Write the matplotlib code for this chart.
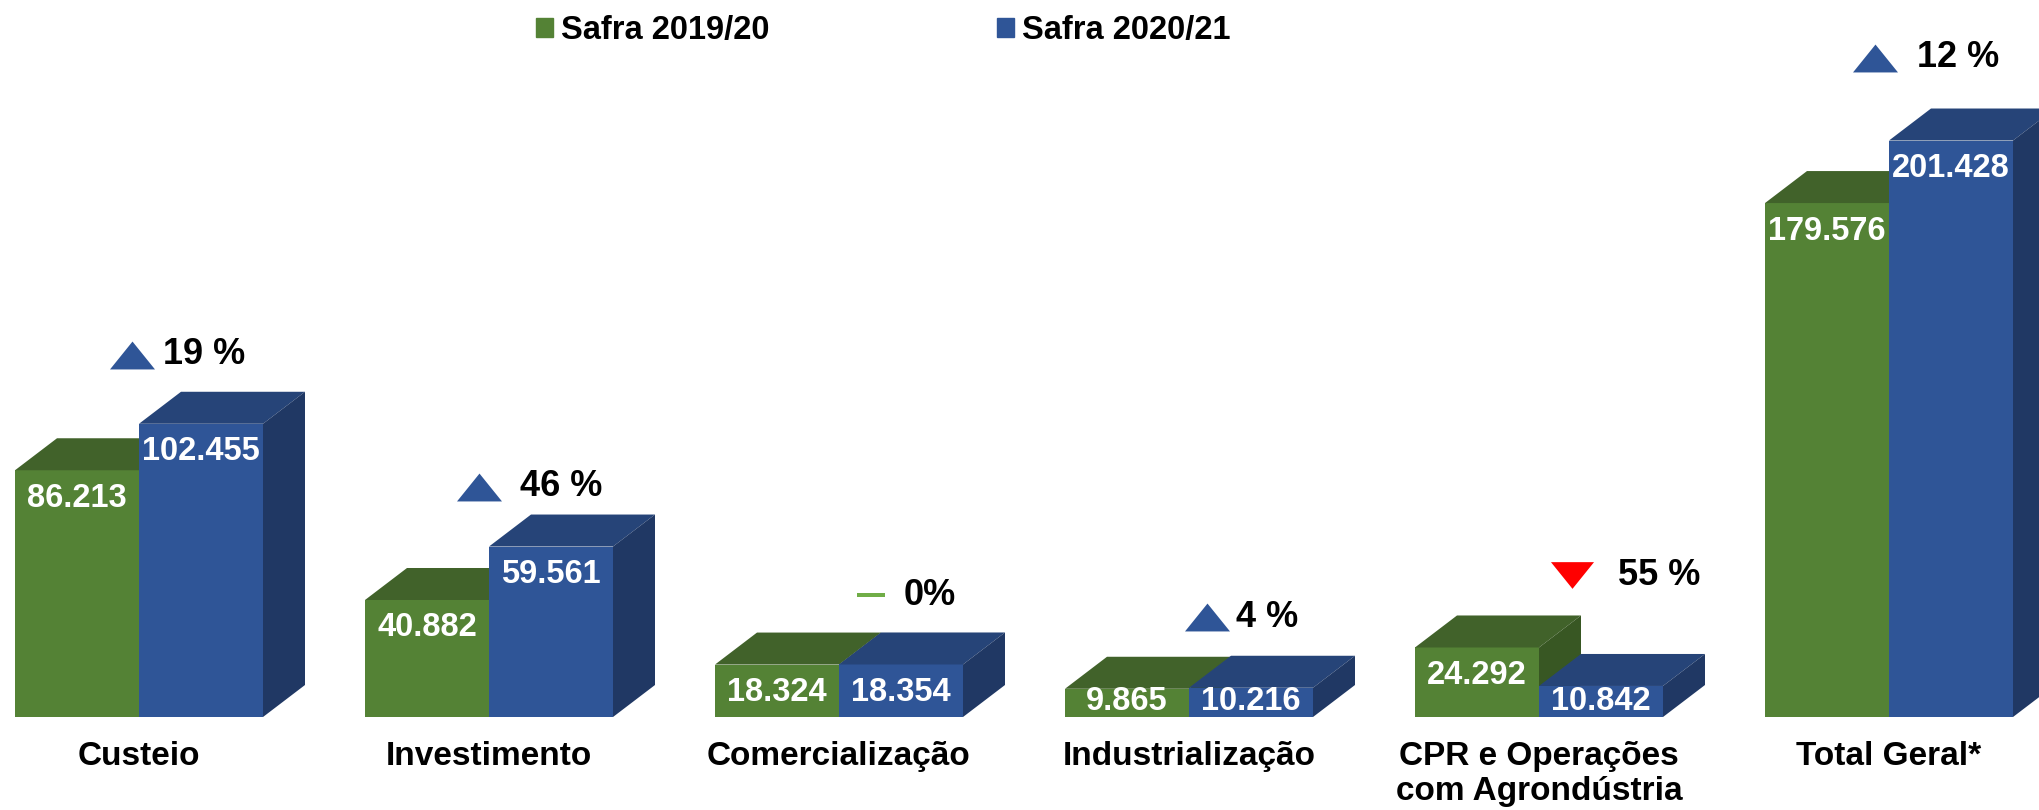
import matplotlib
matplotlib.use("Agg")
import matplotlib.pyplot as plt
from matplotlib.patches import Polygon, Patch

plt.rcParams["font.family"] = ["Liberation Sans", "DejaVu Sans"]
plt.rcParams["font.weight"] = "bold"

# data
categories = ["Custeio", "Investimento", "Comercialização", "Industrialização",
              "CPR e Operações\ncom Agrondústria", "Total Geral*"]
series_names = ["Safra 2019/20", "Safra 2020/21"]
safra_1920 = [86.213, 40.882, 18.324, 9.865, 24.292, 179.576]
safra_2021 = [102.455, 59.561, 18.354, 10.216, 10.842, 201.428]
change_pct = ["19 %", "46 %", "0%", "4 %", "55 %", "12 %"]
change_dir = ["up", "up", "flat", "up", "down", "up"]

# layout of the change notes (height in data units, x offsets from group centre)
note_y = [126.5, 80.4, 42.6, 34.9, 49.6, 230.3]
note_mark_dx = [-0.02, -0.029, 0.091, 0.051, 0.094, -0.04]
note_text_dx = [0.069, 0.089, 0.186, 0.134, 0.226, 0.08]

# colours: front, top, side
green = ("#548235", "#41622A", "#385723")
blue = ("#2F5597", "#264478", "#203864")

W, H = 2040, 810
base_px = 717          # baseline, pixels from top
ppu = 2.862            # pixels per data unit
pitch = 350            # pixels between groups

fig = plt.figure(figsize=(W / 100, H / 100), dpi=100)
ax = fig.add_axes([0, (H - base_px) / H, 1, base_px / H])
ax.set_ylim(0, base_px / ppu)
ax.set_xlim(-139 / pitch, (W - 139) / pitch)

bw = 124 / pitch       # bar width
ddx = 42 / pitch       # 3d depth in x
ddy = 32 / ppu         # 3d depth in y


def bar3d(x0, h, cols, z):
    ax.bar(x0, h, width=bw, align="edge", color=cols[0], zorder=z, linewidth=0)
    top = Polygon([(x0, h), (x0 + bw, h), (x0 + bw + ddx, h + ddy), (x0 + ddx, h + ddy)],
                  closed=True, facecolor=cols[1], edgecolor="none", zorder=z + 0.1,
                  clip_on=False)
    side = Polygon([(x0 + bw, 0), (x0 + bw, h), (x0 + bw + ddx, h + ddy), (x0 + bw + ddx, ddy)],
                   closed=True, facecolor=cols[2], edgecolor="none", zorder=z + 0.1,
                   clip_on=False)
    ax.add_patch(top)
    ax.add_patch(side)


def value_label(xc, v):
    y = max(v - 28 / ppu, 15 / ppu)
    ax.text(xc, y, f"{v:.3f}", ha="center", va="center", color="white",
            fontsize=23.5, fontweight="bold", zorder=100)


for i in range(len(categories)):
    bar3d(i - bw, safra_1920[i], green, 1 + 2 * i)
    bar3d(i, safra_2021[i], blue, 2 + 2 * i)
    value_label(i - bw / 2, safra_1920[i])
    value_label(i + bw / 2, safra_2021[i])

# change markers
up_tri = [(-1, -0.62), (1, -0.62), (0, 0.62)]
down_tri = [(-1, 0.62), (1, 0.62), (0, -0.62)]
dash = [(-1, -0.15), (1, -0.15), (1, 0.15), (-1, 0.15)]
for i, d in enumerate(change_dir):
    if d == "up":
        mk, ms, col = up_tri, 32.4, "#2F5597"
    elif d == "down":
        mk, ms, col = down_tri, 31, "#FF0000"
    else:
        mk, ms, col = dash, 20, "#70AD47"
    ax.plot(i + note_mark_dx[i], note_y[i], marker=mk, markersize=ms, color=col,
            linestyle="none", markeredgewidth=0, clip_on=False, zorder=100)
    ax.text(i + note_text_dx[i], note_y[i], change_pct[i], ha="left", va="center",
            fontsize=26, fontweight="bold", color="black", zorder=100)

# category labels
ax.set_xticks(range(len(categories)))
ax.set_xticklabels(categories, fontsize=24, fontweight="bold")
ax.tick_params(axis="x", length=0, pad=17)
ax.set_yticks([])
for s in ax.spines.values():
    s.set_visible(False)
ax.patch.set_alpha(0)

# legend
handles = [Patch(color=green[0]), Patch(color=blue[0])]
ax.legend(handles, series_names, ncol=2, frameon=False, loc="upper left",
          bbox_to_anchor=(536 / W, 1 - 15 / H), bbox_transform=fig.transFigure,
          borderpad=0, borderaxespad=0, handlelength=0.52, handleheight=0.52,
          handletextpad=0.25, columnspacing=6.96,
          prop={"size": 23.5, "weight": "bold"})

fig.savefig("out.png", dpi=100, facecolor="white")
plt.close(fig)
